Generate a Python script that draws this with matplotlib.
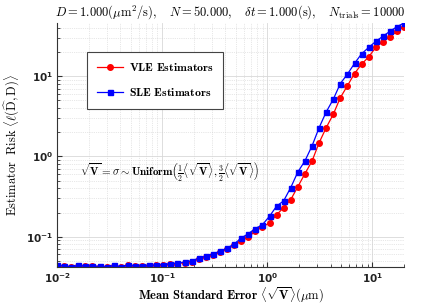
import numpy as np
import matplotlib
matplotlib.use('Agg')
import matplotlib.pyplot as plt
from matplotlib.ticker import FuncFormatter, LogLocator

# mean standard error grid (50 log-spaced points from 1e-2 to 20)
sigma = np.logspace(-2, np.log10(20), 50)

vle_risk = [0.0430, 0.0432, 0.0422, 0.0435, 0.0428, 0.0430, 0.0425, 0.0420, 0.0433, 0.0424,
            0.0438, 0.0432, 0.0428, 0.0434, 0.0438, 0.0445, 0.0452, 0.0462, 0.0475, 0.0490,
            0.0525, 0.0555, 0.0590, 0.0640, 0.0700, 0.0780, 0.0880, 0.0990, 0.117, 0.133,
            0.148, 0.188, 0.230, 0.290, 0.420, 0.610, 0.875, 1.48, 2.28, 3.35,
            5.4, 7.6, 10.8, 14.1, 17.4, 22.8, 26.9, 31.0, 36.2, 41.4]

sle_risk = [0.0438, 0.0436, 0.0419, 0.0438, 0.0431, 0.0431, 0.0427, 0.0419, 0.0438, 0.0423,
            0.0443, 0.0435, 0.0430, 0.0438, 0.0443, 0.0450, 0.0458, 0.0468, 0.0481, 0.0500,
            0.0540, 0.0570, 0.0610, 0.0660, 0.0720, 0.0810, 0.0960, 0.109, 0.126, 0.141,
            0.180, 0.240, 0.280, 0.410, 0.640, 0.880, 1.35, 2.28, 3.58, 5.15,
            8.1, 10.6, 14.4, 19.0, 22.8, 27.1, 31.4, 36.2, 41.4, 46.0]

fig = plt.figure(figsize=(4.46, 3.05), dpi=100)
ax = fig.add_axes([0.128, 0.1246, 0.778, 0.80])

ax.plot(sigma, vle_risk, '-o', color='red', lw=0.9, ms=4, label=r'$\mathbf{VLE\ Estimators}$')
ax.plot(sigma, sle_risk, '-s', color='blue', lw=0.9, ms=3.6, label=r'$\mathbf{SLE\ Estimators}$')

ax.set_xscale('log')
ax.set_yscale('log')
ax.set_xlim(0.01, 20)
allv = vle_risk + sle_risk
ax.set_ylim(min(allv), max(allv))

ax.grid(True, which='major', color='#d8d8d8', lw=0.6, ls='-')
ax.grid(True, which='minor', color='#d0d0d0', lw=0.5, ls=':')
ax.set_axisbelow(True)

for s in ['top', 'right']:
    ax.spines[s].set_visible(False)
for s in ['left', 'bottom']:
    ax.spines[s].set_color('#333333')
    ax.spines[s].set_linewidth(0.8)

ax.yaxis.set_major_locator(LogLocator(base=10, numticks=10))
ax.yaxis.set_minor_locator(LogLocator(base=10, subs=np.arange(2, 10), numticks=10))
ax.tick_params(which='both', direction='in', colors='#333333', top=False, right=False)
ax.tick_params(which='major', length=3.5, labelsize=7.5, pad=3)
ax.tick_params(which='minor', length=2)

fmt = FuncFormatter(lambda v, p: r'$\mathbf{10^{%d}}$' % round(np.log10(v)))
ax.xaxis.set_major_formatter(fmt)
ax.yaxis.set_major_formatter(fmt)
for lab in ax.get_xticklabels() + ax.get_yticklabels():
    lab.set_math_fontfamily('dejavusans')
    lab.set_color('#222222')

ax.set_title(r'$D = 1.000(\mu\mathrm{m}^2/\mathrm{s}),\quad N = 50.000,\quad \delta t = 1.000(\mathrm{s}),\quad N_{\mathrm{trials}} = 10000$',
             fontsize=9, math_fontfamily='cm', pad=5)
ax.set_xlabel(r'$\mathbf{Mean\ Standard\ Error}\ \langle\sqrt{\mathbf{V}}\rangle(\mu\mathrm{m})$',
              fontsize=9, math_fontfamily='cm')
ax.xaxis.set_label_coords(0.5, -0.075)
ax.set_ylabel(r'$\mathrm{Estimator\ \ Risk}\ \langle\ell(\widehat{\mathrm{D}},\mathrm{D})\rangle$',
              fontsize=9, math_fontfamily='cm')
ax.yaxis.set_label_coords(-0.10, 0.5)

leg = ax.legend(loc='upper left', bbox_to_anchor=(0.087, 0.881), borderaxespad=0, fancybox=False,
                edgecolor='#444444', framealpha=1, borderpad=0.8, labelspacing=1.0,
                handlelength=2.2, handletextpad=0.5, prop={'size': 8.5, 'math_fontfamily': 'cm'})
leg.get_frame().set_linewidth(0.8)

ax.text(0.065, 0.389, r'$\sqrt{\mathbf{V}} = \sigma \sim \mathbf{Uniform}\left(\frac{1}{2}\langle\sqrt{\mathbf{V}}\rangle,\frac{3}{2}\langle\sqrt{\mathbf{V}}\rangle\right)$',
        transform=ax.transAxes, fontsize=8, math_fontfamily='cm', va='center')

fig.savefig('out.png', dpi=100)
